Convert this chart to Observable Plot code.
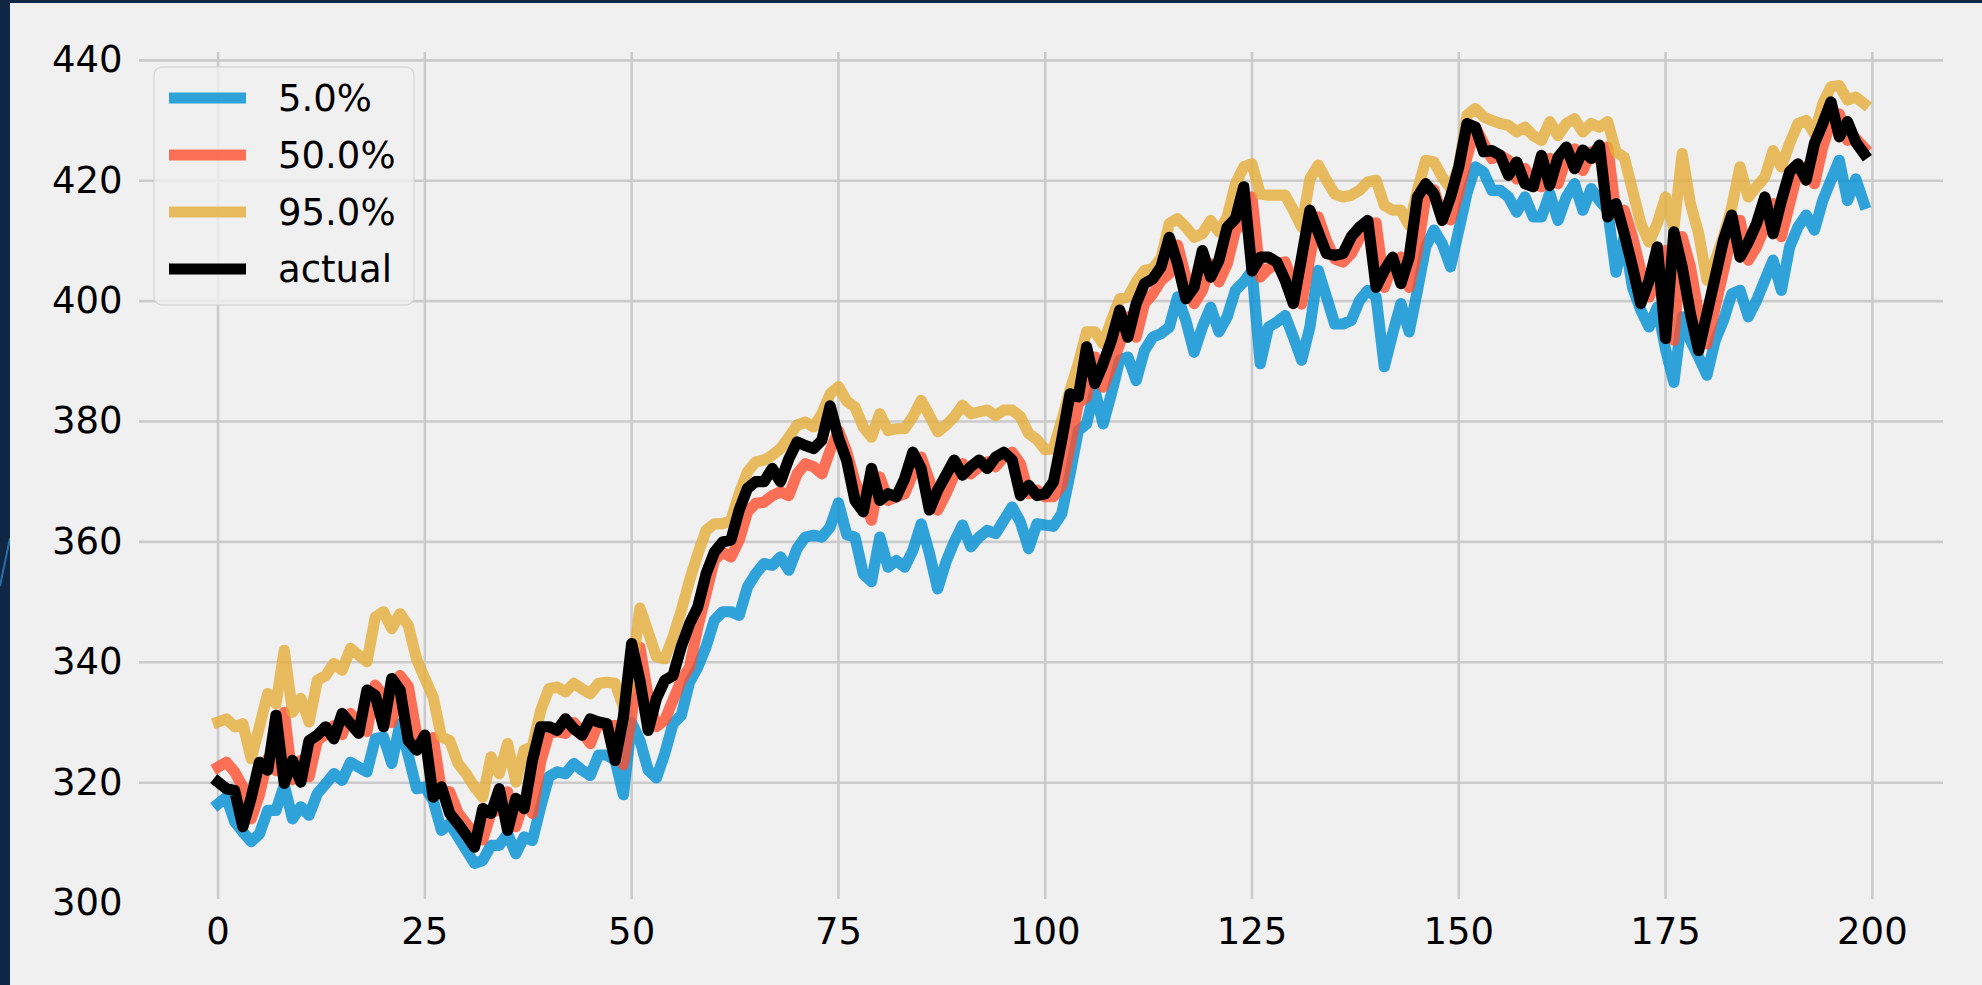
<!DOCTYPE html>
<html>
<head>
<meta charset="utf-8">
<script src="https://cdn.jsdelivr.net/npm/d3@7"></script>
<script src="https://cdn.jsdelivr.net/npm/@observablehq/plot@0.6"></script>
<style>
  html, body { margin: 0; padding: 0; background: #0f2744; overflow: hidden; }
  #streak { position: absolute; left: 0; top: 0; }
  #panel { position: absolute; left: 10px; top: 3px; width: 1972px; height: 982px; background: #f0f0f0; }
  #panel svg { display: block; }
</style>
</head>
<body>
<svg id="streak" width="10" height="985"><line x1="0" y1="586" x2="10" y2="538" stroke="#2f7fc0" stroke-width="2" stroke-opacity="0.8"/></svg>
<div id="panel"></div>
<script>
// Tick values of both axes
const xTicks = [0, 25, 50, 75, 100, 125, 150, 175, 200];
const yTicks = [300, 320, 340, 360, 380, 400, 420, 440];

// Legend labels and line colours (fivethirtyeight cycle, drawn at 80% opacity)
const seriesNames = ["5.0%", "50.0%", "95.0%", "actual"];
const seriesColors = ["#008fd5", "#fc4f30", "#e5ae38", "#000000"];
const seriesOpacity = [0.8, 0.8, 0.8, 1];

// Lower quantile forecast (5%)
const q05 = [
  316.5, 317.6, 313.5, 311.8, 310.2, 311.5, 315.4, 315.4, 319.6, 314.0,
  316.0, 314.6, 318.2, 319.8, 321.5, 320.4, 323.4, 322.6, 321.8, 327.3,
  327.6, 323.2, 329.8, 324.5, 319.0, 319.3, 317.1, 312.1, 313.2, 311.0,
  308.8, 306.6, 307.1, 309.6, 309.6, 311.5, 308.2, 311.0, 310.4, 316.0,
  321.0, 321.8, 321.5, 323.2, 322.1, 321.2, 324.6, 324.6, 323.7, 318.0,
  330.0, 327.0, 322.1, 320.8, 324.8, 329.8, 331.2, 336.7, 339.2, 342.6,
  347.0, 348.4, 348.4, 347.8, 352.5, 354.7, 356.4, 356.1, 357.5, 355.3,
  358.9, 360.8, 361.1, 360.8, 362.5, 366.5, 361.2, 360.8, 354.7, 353.4,
  360.8, 355.8, 356.9, 355.8, 358.6, 363.0, 358.1, 352.2, 356.7, 360.0,
  362.8, 359.2, 360.8, 361.9, 361.4, 363.6, 365.8, 363.3, 358.9, 363.0,
  362.8, 362.6, 364.7, 371.3, 378.5, 379.6, 385.2, 379.6, 384.6, 390.2,
  390.7, 386.8, 391.8, 394.0, 394.6, 395.7, 400.7, 396.8, 391.5, 395.7,
  399.0, 394.9, 397.4, 401.8, 403.2, 405.0, 389.6, 395.7, 396.5, 397.6,
  394.0, 390.2, 395.7, 405.1, 400.7, 396.2, 396.2, 396.8, 400.1, 401.8,
  400.7, 389.1, 394.6, 399.6, 394.9, 401.8, 409.0, 411.8, 409.5, 405.7,
  411.8, 418.0, 422.3, 421.4, 418.4, 418.4, 417.3, 414.8, 417.3, 414.0,
  414.0, 417.9, 413.4, 417.3, 419.5, 415.1, 418.7, 416.7, 415.1, 404.8,
  410.7, 402.3, 398.5, 395.7, 399.0, 392.0, 386.5, 397.4, 393.5, 390.7,
  387.7, 393.5, 396.8, 401.2, 401.8, 397.4, 400.1, 403.5, 406.8, 401.8,
  409.0, 412.3, 414.3, 411.8, 416.7, 420.1, 423.4, 416.7, 420.3, 416.2
];

// Median forecast (50%)
const q50 = [
  322.6, 323.4, 321.8, 319.3, 314.0, 318.0, 324.0, 322.0, 331.7, 320.5,
  323.7, 321.0, 327.0, 328.0, 329.5, 328.0, 331.5, 330.0, 328.5, 336.2,
  334.5, 330.0, 337.8, 336.0, 328.0, 326.0, 327.5, 318.7, 318.5, 315.0,
  313.2, 311.5, 310.5, 315.0, 315.5, 318.5, 312.7, 317.0, 314.9, 323.5,
  328.2, 328.5, 328.2, 330.0, 328.5, 326.5, 330.0, 329.5, 329.5, 323.0,
  331.0, 342.5, 334.2, 329.3, 330.4, 333.7, 337.0, 339.2, 345.9, 351.4,
  357.0, 358.3, 357.5, 360.3, 365.0, 366.4, 366.6, 367.7, 368.3, 367.7,
  371.3, 373.0, 372.5, 371.3, 375.2, 378.5, 375.0, 370.0, 367.0, 363.6,
  370.8, 366.9, 367.5, 368.0, 371.3, 374.1, 370.2, 365.3, 368.0, 371.1,
  373.0, 371.3, 372.5, 373.3, 372.5, 374.1, 374.9, 373.0, 368.0, 368.6,
  367.5, 367.5, 369.4, 375.8, 383.0, 384.1, 390.7, 385.7, 389.1, 392.9,
  397.4, 394.0, 399.6, 401.2, 403.4, 404.6, 409.3, 404.0, 399.6, 401.8,
  406.2, 403.2, 406.2, 411.8, 412.9, 417.3, 404.0, 405.4, 406.2, 406.5,
  403.0, 399.5, 407.3, 414.0, 410.0, 407.0, 406.5, 407.9, 410.5, 412.5,
  413.0, 402.3, 406.2, 407.3, 402.3, 408.4, 417.3, 418.5, 414.0, 413.5,
  418.0, 424.0, 428.9, 426.2, 423.7, 424.2, 423.4, 420.3, 422.0, 419.5,
  419.0, 423.7, 419.5, 423.9, 425.3, 421.7, 424.8, 423.4, 425.6, 414.5,
  415.1, 410.7, 405.1, 400.7, 403.4, 408.4, 393.5, 410.7, 405.7, 397.9,
  392.9, 399.0, 405.0, 411.0, 413.4, 406.8, 409.0, 412.3, 416.2, 410.7,
  416.2, 421.7, 422.3, 419.5, 425.6, 430.0, 431.1, 426.7, 427.0, 425.5
];

// Upper quantile forecast (95%)
const q95 = [
  330.1, 330.6, 329.3, 329.8, 324.0, 329.3, 334.8, 333.1, 342.0, 331.7,
  334.0, 330.1, 337.0, 337.8, 339.8, 338.7, 342.3, 341.2, 340.1, 347.5,
  348.4, 345.6, 348.1, 346.1, 340.5, 337.3, 334.2, 327.6, 327.0, 323.2,
  321.5, 319.3, 317.6, 324.3, 321.5, 326.5, 320.1, 325.4, 326.0, 332.0,
  335.6, 335.9, 335.1, 336.5, 335.6, 334.8, 336.5, 336.7, 336.5, 332.6,
  338.0, 349.0, 345.0, 340.9, 340.6, 344.2, 348.6, 353.6, 358.0, 361.9,
  363.0, 363.0, 363.6, 368.0, 371.6, 373.3, 373.6, 374.4, 375.5, 377.4,
  379.4, 379.9, 379.1, 381.3, 384.6, 385.8, 383.4, 382.4, 379.1, 377.4,
  381.3, 378.5, 378.8, 378.8, 380.8, 383.5, 381.0, 378.3, 379.4, 380.8,
  382.7, 381.3, 381.6, 381.9, 381.0, 381.9, 381.9, 380.8, 378.0, 377.0,
  375.3, 375.5, 380.2, 385.2, 389.6, 394.9, 394.9, 392.9, 396.8, 400.4,
  400.7, 403.2, 405.1, 405.4, 407.1, 412.9, 413.7, 412.3, 410.6, 411.2,
  413.4, 411.5, 414.0, 419.5, 422.3, 422.8, 417.8, 417.6, 417.6, 417.6,
  415.1, 412.3, 420.3, 422.6, 420.1, 417.8, 417.3, 417.6, 418.4, 419.8,
  420.1, 415.9, 415.1, 415.1, 412.6, 418.4, 423.4, 423.1, 420.6, 418.7,
  422.3, 430.9, 432.0, 430.6, 430.0, 429.5, 429.2, 428.1, 428.9, 427.5,
  426.7, 429.8, 427.5, 429.5, 430.3, 428.1, 429.5, 428.9, 429.8, 424.8,
  423.9, 418.4, 412.9, 409.8, 412.9, 417.3, 412.0, 424.5, 416.2, 411.2,
  403.5, 406.8, 410.7, 415.6, 422.3, 417.3, 419.0, 420.6, 425.0, 422.3,
  426.2, 429.5, 430.0, 427.8, 432.8, 435.6, 435.8, 433.4, 433.9, 432.8
];

// Observed values
const actual = [
  320.1, 319.0, 318.7, 312.7, 317.5, 323.4, 322.1, 331.2, 319.9, 323.7,
  320.1, 327.0, 327.9, 329.3, 327.3, 331.5, 329.8, 328.2, 335.4, 334.5,
  329.3, 337.3, 335.4, 327.0, 325.4, 327.9, 317.6, 319.3, 314.9, 313.2,
  311.3, 309.3, 315.7, 314.9, 319.0, 312.1, 317.4, 315.7, 323.7, 329.3,
  329.3, 328.7, 330.6, 329.0, 327.9, 330.6, 330.1, 329.8, 323.7, 330.9,
  343.1, 337.0, 328.7, 334.0, 337.0, 337.8, 342.6, 346.4, 349.2, 354.7,
  358.3, 360.0, 360.3, 365.3, 368.9, 370.0, 370.0, 372.2, 370.0, 373.8,
  376.6, 376.0, 375.5, 376.9, 382.6, 377.3, 373.5, 366.9, 365.0, 372.2,
  366.9, 368.0, 367.5, 370.5, 374.9, 372.2, 365.3, 368.6, 371.1, 373.6,
  371.1, 372.5, 373.6, 372.2, 374.1, 374.9, 373.6, 367.7, 369.4, 367.7,
  368.0, 370.0, 377.0, 384.6, 384.1, 392.4, 386.3, 389.6, 393.5, 398.5,
  394.0, 399.6, 402.9, 403.7, 405.7, 410.6, 406.2, 400.4, 402.3, 408.4,
  404.0, 406.8, 412.3, 413.7, 419.0, 405.0, 407.3, 407.3, 406.5, 403.5,
  399.6, 407.3, 415.1, 411.5, 407.9, 407.6, 407.9, 410.7, 412.3, 413.4,
  402.3, 405.1, 407.3, 402.9, 407.3, 417.3, 419.5, 417.8, 413.4, 417.3,
  422.3, 429.5, 428.9, 424.8, 425.0, 424.2, 420.9, 423.1, 419.5, 419.0,
  424.2, 419.2, 423.9, 425.6, 422.0, 425.1, 423.7, 425.9, 414.0, 416.2,
  411.2, 405.7, 399.6, 403.4, 409.0, 393.8, 411.5, 405.7, 397.9, 391.8,
  397.9, 404.0, 410.1, 414.3, 407.3, 409.8, 412.9, 417.3, 411.2, 416.7,
  421.5, 422.8, 420.1, 426.2, 429.5, 433.1, 427.3, 429.8, 426.4, 424.5
];

const series = [q05, q50, q95, actual];

const W = 1972, H = 982;
const lineWidth = 11.2;
const gridStyle = { stroke: "#cbcbcb", strokeOpacity: 1, strokeWidth: 2.6 };
const yDomain = [300.6, 441.3];

const chart = Plot.plot({
  width: W,
  height: H,
  marginLeft: 129,
  marginRight: 39,
  marginTop: 49,
  marginBottom: 86,
  x: { domain: [-9.5, 208.6] },
  y: { domain: yDomain },
  style: {
    background: "transparent",
    fontFamily: "'DejaVu Sans', sans-serif",
    fontSize: "37px",
    color: "#000"
  },
  marks: [
    Plot.gridY(yTicks.filter((t) => t >= yDomain[0]), gridStyle),
    Plot.gridX(xTicks, gridStyle),
    Plot.axisY(yTicks, { tickSize: 0, tickPadding: 17, label: null, tickFormat: (d) => String(d), fontSize: 37 }),
    Plot.axisX(xTicks, { tickSize: 0, tickPadding: 18, label: null, tickFormat: (d) => String(d), fontSize: 37 }),
    ...series.map((values, k) =>
      Plot.lineY(values, {
        x: (d, i) => i,
        y: (d) => d,
        stroke: seriesColors[k],
        strokeOpacity: seriesOpacity[k],
        strokeWidth: lineWidth,
        strokeLinejoin: "round",
        strokeLinecap: "square"
      })
    )
  ]
});

// Legend box in the upper-left corner of the plot area
const svg = d3.select(chart);
const legend = svg.append("g")
  .attr("font-family", "'DejaVu Sans', sans-serif")
  .attr("font-size", 37)
  .attr("text-anchor", "start");
legend.append("rect")
  .attr("x", 144).attr("y", 64)
  .attr("width", 260).attr("height", 238)
  .attr("rx", 8).attr("ry", 8)
  .attr("fill", "#f0f0f0").attr("fill-opacity", 0.8)
  .attr("stroke", "#d6d6d6").attr("stroke-width", 1.3);
seriesNames.forEach((name, k) => {
  const cy = 95 + k * 57;
  legend.append("line")
    .attr("x1", 159).attr("x2", 236)
    .attr("y1", cy).attr("y2", cy)
    .attr("stroke", seriesColors[k])
    .attr("stroke-opacity", seriesOpacity[k])
    .attr("stroke-width", lineWidth);
  legend.append("text")
    .attr("x", 268).attr("y", cy)
    .attr("dy", "0.36em")
    .attr("text-anchor", "start")
    .attr("fill", "#000")
    .text(name);
});

document.getElementById("panel").appendChild(chart);
</script>
</body>
</html>
